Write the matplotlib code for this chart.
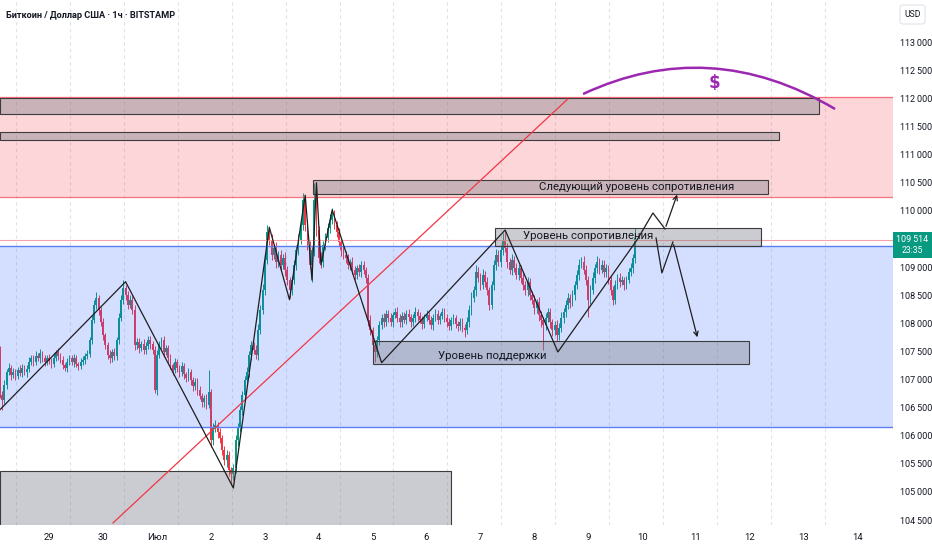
import matplotlib
matplotlib.use("Agg")
import matplotlib.pyplot as plt
from matplotlib.patches import Rectangle, PathPatch, FancyBboxPatch
from matplotlib.path import Path
import numpy as np

plt.rcParams['font.family'] = ['DejaVu Sans']

# ---------------- data ----------------
title = "Биткоин / Доллар США · 1ч · BITSTAMP"
start_hour = -70          # first candle, hours relative to 1 July 00:00
first_open = 107530
closes = [
    106730,106640,106900,107130,107210,107080,107130,107060,107170,107120,107210,107130,107190,107310,107380,107310,107420,107380,107470,107380,
    107310,107380,107330,107280,107380,107490,107420,107350,107260,107210,107310,107380,107310,107380,107280,107240,107310,107350,107420,107450,
    107700,108060,108330,108450,108240,108020,107790,107610,107440,107380,107490,107420,107700,108100,108420,108630,108500,108330,108420,108240,
    107610,107670,107560,107630,107530,107600,107700,107630,107530,106810,107440,107610,107700,107490,107560,107380,107260,107170,107310,107210,
    107130,107240,107100,107030,107130,106990,106890,106960,106810,106710,106600,106670,106550,106780,105920,106140,106190,106070,105960,105750,
    105570,105660,105390,105320,105430,105920,106140,106460,106730,106990,107130,107440,107610,107530,107440,107880,108240,108590,109130,109620,
    109480,109220,109340,109090,109220,109040,109160,108950,108770,108590,108770,109040,109300,109480,109750,110190,109750,109390,109040,109300,
    110190,109660,109160,109090,109390,109510,109700,109840,109930,109750,109620,109450,109300,109220,109160,109040,109090,108950,108860,108980,
    108910,109040,108950,108810,108060,107880,107610,107490,107700,107970,108100,108020,108170,108100,108020,108150,108200,108100,108020,108130,
    108060,108170,108110,108020,108100,108200,108130,108060,107990,108100,108150,108060,107970,108100,108170,108060,108130,108200,108100,108020,
    107950,108060,108100,107990,107950,108020,107920,107880,108020,108240,108450,108590,108910,108810,108680,108860,108740,108590,108330,108680,
    109040,109220,109090,109300,109480,109340,109090,108950,109130,108980,108860,108980,108810,108680,108590,108740,108500,108420,108270,108380,
    108150,108060,107970,108100,108200,108020,107880,107970,107790,107920,108100,108200,108330,108450,108360,108500,108680,108860,109040,109090,
    108950,108770,108420,108590,108810,108980,109090,108950,109040,108910,108980,108770,108590,108420,108680,108810,108740,108770,108680,108770,
    108910,108980,109160,109514,
]
wick_up = [
    70,60,90,50,80,40,70,60,50,80,60,40,70,90,60,50,80,60,70,40,
    60,50,80,60,90,40,70,50,60,40,80,60,50,70,60,40,80,60,50,70,
    60,90,80,110,60,50,70,40,60,80,50,70,60,80,90,140,60,70,90,60,
    80,60,70,50,90,60,80,70,50,60,90,70,60,80,50,60,70,40,80,60,
    50,70,60,40,80,60,50,70,60,80,50,60,70,390,60,80,90,60,70,50,
    60,80,70,50,60,90,80,70,60,80,90,70,80,60,90,100,80,110,90,130,
    90,110,80,100,70,90,80,100,70,60,80,90,100,110,90,130,80,100,70,60,
    310,90,80,100,70,90,80,100,120,90,70,80,60,90,70,80,60,90,70,60,
    80,70,60,50,70,80,60,90,80,70,60,90,70,60,80,50,70,90,60,80,
    70,60,80,50,70,90,60,80,70,60,80,50,70,60,90,70,60,80,70,60,
    80,60,70,50,60,80,70,60,90,80,100,70,120,90,80,100,70,90,60,80,
    90,110,80,100,120,180,90,80,100,70,90,80,60,90,70,80,60,70,90,60,
    80,70,60,90,70,80,60,70,90,80,100,70,80,90,70,100,80,90,110,90,
    100,80,70,90,110,80,100,70,90,80,70,60,80,70,90,60,80,70,60,80,
    70,90,80,190,
]
wick_dn = [
    60,180,70,60,50,80,60,70,50,60,70,50,80,60,50,70,60,50,80,60,
    70,50,60,80,60,50,70,60,80,50,70,60,50,80,60,70,50,60,70,60,
    50,70,60,80,90,70,80,60,70,90,60,80,70,60,50,80,90,70,60,80,
    90,70,80,60,70,80,60,90,70,50,80,60,70,90,60,80,70,90,60,70,
    80,60,90,70,60,80,90,70,80,60,90,80,70,60,120,90,80,110,90,100,
    90,120,100,200,110,90,100,80,90,70,100,80,90,70,80,90,70,80,90,70,
    80,90,70,100,80,90,70,100,90,140,80,70,90,80,70,90,110,90,80,300,
    100,110,90,110,90,80,70,90,80,70,90,80,100,70,90,80,100,70,90,80,
    70,90,80,100,110,90,100,180,90,80,70,90,60,80,70,90,60,70,80,90,
    60,80,70,90,60,70,80,60,90,70,60,80,70,90,60,70,80,60,70,90,
    70,60,80,70,90,60,80,120,70,80,90,70,100,80,90,70,100,80,90,70,
    80,90,70,80,90,70,100,80,90,70,80,90,100,80,90,110,90,80,100,90,
    100,120,440,90,80,100,110,90,100,80,70,90,80,70,90,60,80,70,90,60,
    80,90,310,80,70,90,80,70,60,80,90,70,80,90,80,70,90,60,80,70,
    60,70,80,90,
]
day_labels = ["29", "30", "Июл", "2", "3", "4", "5", "6", "7", "8", "9", "10", "11", "12", "13", "14"]
day_hours = [-48, -24, 0, 24, 48, 72, 96, 120, 144, 168, 192, 216, 240, 264, 288, 312]
# 109 500 is hidden behind the last-price label in the reference
price_ticks = [104500, 105000, 105500, 106000, 106500, 107000, 107500, 108000, 108500, 109000,
               110000, 110500, 111000, 111500, 112000, 112500, 113000]
last_price = 109514
countdown = "23:35"

# zones (price ranges)
red_zone = (110250, 112030)
blue_zone = (106155, 109375)
# boxes: (hour start, hour end, price low, price high, label)
boxes = [
    (-70, 294.7, 111725, 112010, ""),
    (-70, 276.9, 111262, 111404, ""),
    (69.5, 272.0, 110300, 110550, "Следующий уровень сопротивления"),
    (150.5, 268.9, 109376, 109696, "Уровень сопротивления"),
    (96.2, 263.6, 107277, 107686, "Уровень поддержки"),
    (-70, 130.9, 104000, 105373, ""),
]
label_pos = {
    "Следующий уровень сопротивления": (213.7, 110426),
    "Уровень сопротивления": (191.9, 109554),
    "Уровень поддержки": (149.2, 107419),
}
# wave drawing (hour, price)
zig_h = [-70, -14, 34, 50, 59, 66, 69, 71, 73, 78, 100, 155, 178.5, 214, 220.8, 226.2, 232.0]
zig_p = [106460, 108740, 105070, 109710, 108420, 110280, 108770, 110500, 109040, 110020, 107300, 109660, 107490, 109500, 109963, 109679, 110337]
alt_h = [222.2, 224.8, 229.7, 240.9]
alt_p = [109518, 108896, 109447, 107704]
trend_h = [-19.6, 182.9]
trend_p = [104448, 111991]
arc_h = [189.7, 246.0, 301.9]
arc_p = [112080, 112540, 111813]

# ---------------- figure ----------------
W, H = 932, 550
fig = plt.figure(figsize=(W / 100, H / 100), dpi=100)
fig.patch.set_facecolor("white")
ax_right = 893 / W
ax_bottom = 1 - 525 / H
ax = fig.add_axes([0, ax_bottom, ax_right, 1 - ax_bottom])
ax.set_facecolor("white")
xmin, xmax = -69.9, 327.7
ymin, ymax = 104412, 113752
ax.set_xlim(xmin, xmax)
ax.set_ylim(ymin, ymax)
for s in ax.spines.values():
    s.set_visible(False)

# grid
for dh in day_hours:
    ax.axvline(dh - 14.7, color="#dfe2ea", lw=0.8, ls=(0, (3, 3)), zorder=0)

# candles
c = np.array(closes, float)
o = np.array([first_open] + closes[:-1], float)
hours = start_hour + np.arange(len(c))
hi = np.maximum(o, c) + np.array(wick_up)
lo = np.minimum(o, c) - np.array(wick_dn)
cols = np.where(c >= o, "#089981", "#f23645")
ax.vlines(hours, lo, hi, colors=cols, lw=0.7, zorder=2)
ax.bar(hours, np.maximum(np.abs(c - o), 15), bottom=np.minimum(o, c), width=0.8,
       color=cols, lw=0, zorder=2)

# zones
ax.axhspan(*red_zone, color=(242/255, 54/255, 69/255, 0.2), lw=0, zorder=3)
for p in red_zone:
    ax.axhline(p, color="#f7525f", lw=0.9, alpha=0.8, zorder=3)
ax.axhspan(*blue_zone, color=(41/255, 98/255, 255/255, 0.2), lw=0, zorder=3)
for p in blue_zone:
    ax.axhline(p, color="#5b7ff5", lw=1.0, zorder=3)
ax.axhline(109474, color="#f7a0a8", lw=0.8, zorder=3)

# boxes
for h0, h1, p0, p1, lab in boxes:
    ax.add_patch(Rectangle((h0, p0), h1 - h0, p1 - p0, facecolor=(120/255, 123/255, 134/255, 0.38),
                           edgecolor="#3c3c3c", lw=0.8, zorder=4))
    if lab:
        lx, ly = label_pos[lab]
        ax.text(lx, ly, lab, ha="center", va="center", fontsize=8.2, color="#131722", zorder=6,
                family=["Roboto", "DejaVu Sans"])

# lines
ax.plot(trend_h, trend_p, color="#f23645", lw=0.9, zorder=5)
ax.plot(zig_h[:-1], zig_p[:-1], color="#1e1e1e", lw=0.9, zorder=5)
ax.annotate("", xy=(zig_h[-1], zig_p[-1]), xytext=(zig_h[-2], zig_p[-2]),
            arrowprops=dict(arrowstyle="->", color="#1e1e1e", lw=0.9, mutation_scale=8), zorder=5)
ax.plot(alt_h[:-1], alt_p[:-1], color="#1e1e1e", lw=0.9, zorder=5)
ax.annotate("", xy=(alt_h[-1], alt_p[-1]), xytext=(alt_h[-2], alt_p[-2]),
            arrowprops=dict(arrowstyle="->", color="#1e1e1e", lw=0.9, mutation_scale=8), zorder=5)

# arc (quadratic bezier through three points)
P0 = np.array([arc_h[0], arc_p[0]])
Pm = np.array([arc_h[1], arc_p[1]])
P2 = np.array([arc_h[2], arc_p[2]])
C = 2 * Pm - (P0 + P2) / 2
ax.add_patch(PathPatch(Path([P0, C, P2], [Path.MOVETO, Path.CURVE3, Path.CURVE3]),
                       facecolor="none", edgecolor="#9c27b0", lw=1.8, zorder=5))
ax.text(248, 112280, "$", color="#9c27b0", fontsize=12, fontweight="bold",
        ha="center", va="center", zorder=6)

# title
fig.text(6 / W, 1 - 15 / H, title, fontsize=6.6, fontweight="bold", color="#131722",
         ha="left", va="center", family=["Roboto", "DejaVu Sans"])

# axes ticks
tick_font = ["Roboto", "DejaVu Sans"]
ax.yaxis.tick_right()
ax.set_yticks(price_ticks)
ax.set_yticklabels([f"{v:,}".replace(",", "\u2009") for v in price_ticks], family=tick_font)
ax.tick_params(axis="y", length=0, pad=5, labelsize=6.5, labelcolor="#131722")
ax.set_xticks(day_hours)
ax.set_xticklabels(day_labels, family=tick_font)
ax.tick_params(axis="x", length=0, pad=6, labelsize=6.8, labelcolor="#131722")

# USD box
fig.add_artist(FancyBboxPatch((900 / W, 1 - 24 / H), 25 / W, 19 / H, transform=fig.transFigure,
                              boxstyle="round,pad=0,rounding_size=0.004", facecolor="white",
                              edgecolor="#e0e3eb", lw=0.8, zorder=10))
fig.text(912.5 / W, 1 - 14.5 / H, "USD", fontsize=6.2, color="#131722", ha="center", va="center",
         family=tick_font, zorder=11)

# last price label
yfrac = ax_bottom + (last_price - ymin) / (ymax - ymin) * (1 - ax_bottom)
fig.add_artist(Rectangle((ax_right, yfrac - 20 / H), 39 / W, 26 / H, transform=fig.transFigure,
                         facecolor="#089981", edgecolor="none", zorder=10))
fig.text(912 / W, yfrac - 1.5 / H, f"{last_price:,}".replace(",", "\u2009"), fontsize=6.5,
         color="white", ha="center", va="center", zorder=11, family=tick_font)
fig.text(912 / W, yfrac - 12.5 / H, countdown, fontsize=6.2, color="white",
         ha="center", va="center", zorder=11, family=tick_font)

fig.savefig("out.png", dpi=100, facecolor="white")
